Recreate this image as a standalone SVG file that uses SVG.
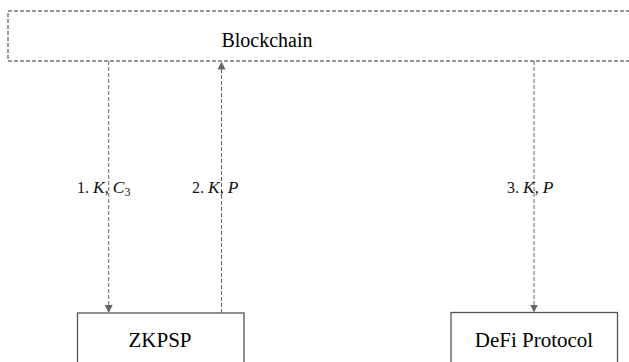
<svg xmlns="http://www.w3.org/2000/svg" width="629" height="362" viewBox="0 0 629 362">
<style>
.box{fill:#fff;stroke:#555;stroke-width:1.3}
.dbox{fill:#fff;stroke:#333;stroke-width:1;stroke-dasharray:4 2}
text{font-family:"Liberation Serif","Times New Roman",Times,serif}
.t{fill:#000;text-anchor:middle}
.c{stroke:#666;stroke-width:1;stroke-dasharray:4 2;fill:none}
.l{font-size:16px;fill:#111}
.m{font-style:italic;font-size:17.5px}
</style>
<defs>
<marker id="ah" viewBox="0 0 8 10" refX="8" refY="5" markerWidth="8" markerHeight="10" markerUnits="userSpaceOnUse" orient="auto">
<path d="M0,1 L8,5 L0,9 Z" fill="#666"/>
</marker>
</defs>
<rect width="629" height="362" fill="#fff"/>
<g id="blockchain">
<rect class="dbox" x="8" y="11" width="640" height="50"/>
<text class="t" x="267" y="47" font-size="20">Blockchain</text>
</g>
<g id="zkpsp">
<rect class="box" x="77.5" y="313" width="166.5" height="60"/>
<text class="t" x="160" y="347" font-size="21">ZKPSP</text>
</g>
<g id="defi">
<rect class="box" x="451" y="312.5" width="166.5" height="60"/>
<text class="t" x="534" y="347" font-size="21">DeFi Protocol</text>
</g>
<g id="connectors">
<line class="c" x1="108.7" y1="61" x2="108.7" y2="313" marker-end="url(#ah)"/>
<line class="c" x1="221.5" y1="313" x2="221.5" y2="61.5" marker-end="url(#ah)"/>
<line class="c" x1="534" y1="61" x2="534" y2="312.5" marker-end="url(#ah)"/>
<text class="l" x="77" y="193">1. <tspan class="m">K</tspan>, <tspan class="m">C</tspan><tspan font-size="12" dy="3">3</tspan></text>
<text class="l" x="192" y="193">2. <tspan class="m">K</tspan>, <tspan class="m">P</tspan></text>
<text class="l" x="507" y="193">3. <tspan class="m">K</tspan>, <tspan class="m">P</tspan></text>
</g>
</svg>
